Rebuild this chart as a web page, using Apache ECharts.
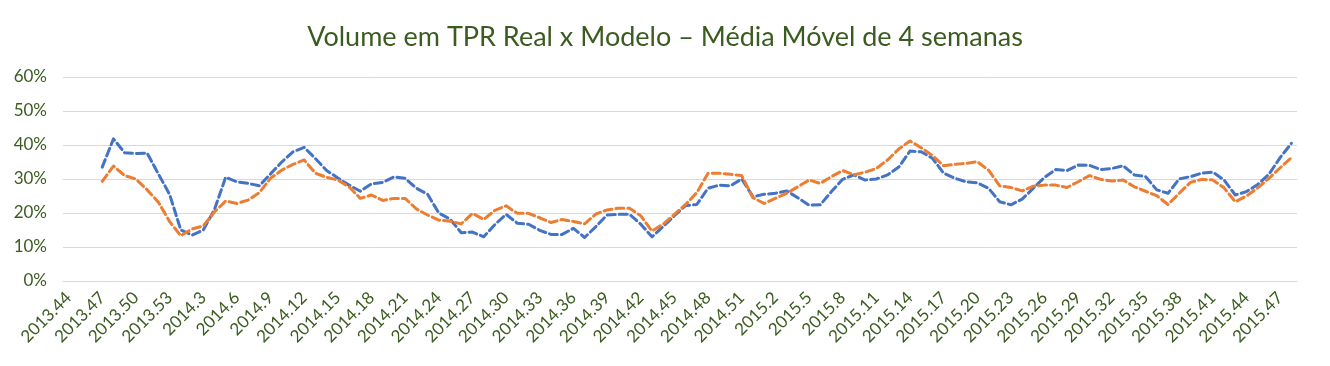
<!DOCTYPE html>
<html>
<head>
<meta charset="utf-8">
<script src="https://cdn.jsdelivr.net/npm/echarts@6/dist/echarts.min.js"></script>
<style>
html,body{margin:0;padding:0;background:#fff;}
#chart{width:1330px;height:366px;}
</style>
</head>
<body>
<div id="chart"></div>
<script>
const weeks = [
"2013.44","2013.45","2013.46","2013.47","2013.48","2013.49","2013.50","2013.51","2013.52","2013.53",
"2014.1","2014.2","2014.3","2014.4","2014.5","2014.6","2014.7","2014.8","2014.9","2014.10",
"2014.11","2014.12","2014.13","2014.14","2014.15","2014.16","2014.17","2014.18","2014.19","2014.20",
"2014.21","2014.22","2014.23","2014.24","2014.25","2014.26","2014.27","2014.28","2014.29","2014.30",
"2014.31","2014.32","2014.33","2014.34","2014.35","2014.36","2014.37","2014.38","2014.39","2014.40",
"2014.41","2014.42","2014.43","2014.44","2014.45","2014.46","2014.47","2014.48","2014.49","2014.50",
"2014.51","2014.52","2015.1","2015.2","2015.3","2015.4","2015.5","2015.6","2015.7","2015.8",
"2015.9","2015.10","2015.11","2015.12","2015.13","2015.14","2015.15","2015.16","2015.17","2015.18",
"2015.19","2015.20","2015.21","2015.22","2015.23","2015.24","2015.25","2015.26","2015.27","2015.28",
"2015.29","2015.30","2015.31","2015.32","2015.33","2015.34","2015.35","2015.36","2015.37","2015.38",
"2015.39","2015.40","2015.41","2015.42","2015.43","2015.44","2015.45","2015.46","2015.47","2015.48"
];

// Real (blue), % values
const real = [
null,null,null,33.5,41.8,37.7,37.5,37.6,31.5,25.5,
15.0,13.5,15.0,21.0,30.5,29.2,28.7,28.0,31.5,35.0,
38.0,39.3,36.0,32.5,30.3,28.2,26.4,28.6,29.0,30.6,
30.2,27.3,25.5,20.0,18.2,14.2,14.4,13.0,16.6,19.6,
17.0,16.7,14.9,13.7,13.7,15.5,12.8,16.0,19.4,19.6,
19.6,16.7,13.0,16.0,19.2,22.2,22.5,27.3,28.2,28.0,
30.0,24.8,25.5,25.8,26.5,24.5,22.3,22.4,26.3,29.9,
31.2,29.7,30.0,31.2,33.5,38.2,38.0,36.1,31.7,30.2,
29.2,28.9,27.3,23.3,22.4,24.1,27.3,30.5,32.8,32.5,
34.1,34.0,32.8,33.1,33.9,31.2,30.7,26.8,25.8,30.0,
30.7,31.7,32.0,29.7,25.3,26.3,28.4,31.4,36.3,40.5
];

// Modelo (orange), % values
const modelo = [
null,null,null,29.3,33.8,31.0,30.0,26.8,23.2,17.5,
13.3,15.3,16.2,20.3,23.5,22.8,23.8,26.0,30.2,32.6,
34.3,35.6,31.7,30.5,29.7,27.7,24.3,25.3,23.7,24.3,
24.3,21.2,19.4,17.9,17.6,16.8,19.9,18.1,20.8,22.1,
19.9,19.9,18.6,17.2,18.1,17.5,16.8,19.7,20.9,21.4,
21.4,19.2,14.7,16.7,19.6,22.5,26.0,31.7,31.7,31.4,
31.0,24.5,22.8,24.3,25.8,27.7,29.7,28.7,30.7,32.5,
31.2,32.0,33.1,35.6,38.8,41.2,39.2,36.9,33.9,34.3,
34.6,35.1,32.6,28.0,27.5,26.5,27.9,28.2,28.2,27.5,
29.2,31.0,29.9,29.4,29.7,27.7,26.4,25.1,22.5,25.8,
29.0,29.9,29.7,27.4,23.3,25.0,27.4,30.2,33.3,36.3
];

const titleText = "Volume em TPR Real x Modelo – Média Móvel de 4 semanas";
const seriesNames = ["Real", "Modelo"];

const textColor = "#3B5C20";
const chart = echarts.init(document.getElementById('chart'), null, {renderer: 'canvas'});
chart.setOption({
  animation: false,
  backgroundColor: '#ffffff',
  title: {
    text: titleText,
    left: 'center',
    top: 19,
    textStyle: {fontFamily: 'Lato', fontSize: 27, fontWeight: 'normal', color: textColor}
  },
  grid: {left: 63, right: 33, top: 77, bottom: 85},
  xAxis: {
    type: 'category',
    data: weeks,
    boundaryGap: true,
    axisLine: {show: true, lineStyle: {color: '#D9D9D9', width: 1}},
    axisTick: {show: false},
    axisLabel: {
      interval: 2,
      rotate: 45,
      color: textColor,
      fontFamily: 'Lato',
      fontSize: 17,
      margin: 14
    }
  },
  yAxis: {
    type: 'value',
    min: 0, max: 60, interval: 10,
    axisLine: {show: false},
    axisTick: {show: false},
    splitLine: {lineStyle: {color: '#D9D9D9', width: 1}},
    axisLabel: {
      formatter: '{value}%',
      color: textColor,
      fontFamily: 'Lato',
      fontSize: 17,
      margin: 16
    }
  },
  series: [
    {
      name: seriesNames[0], type: 'line', data: real,
      showSymbol: false, symbol: 'none',
      lineStyle: {color: '#4472C4', width: 3, type: [8, 4], cap: 'round', join: 'round'}
    },
    {
      name: seriesNames[1], type: 'line', data: modelo,
      showSymbol: false, symbol: 'none',
      lineStyle: {color: '#ED7D31', width: 3, type: [8, 4], cap: 'round', join: 'round'}
    }
  ]
});
</script>
</body>
</html>
